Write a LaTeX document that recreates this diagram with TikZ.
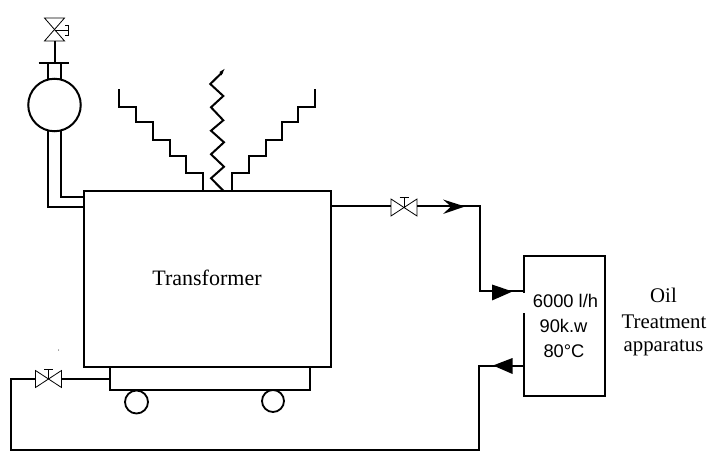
\documentclass[tikz,border=0pt]{standalone}
\usepackage{fontspec}
\setmainfont{Liberation Serif}
\newfontfamily\boxfont{Liberation Sans}
\usetikzlibrary{arrows.meta}
\tikzset{
  pipe/.style={line width=2pt,line cap=butt,line join=miter},
  thin part/.style={line width=0.8pt},
  unit/.style={draw,line width=2pt,rectangle,inner sep=0pt,fill=white},
  wheel/.style={draw,line width=1.8pt,circle,inner sep=0pt,fill=white},
  serif label/.style={anchor=base,inner sep=0pt,font=\fontsize{20.8pt}{24pt}\selectfont},
  sans label/.style={anchor=base,inner sep=0pt,font=\boxfont\fontsize{18.3pt}{22pt}\selectfont},
  pics/hvalve/.style={code={
    \draw[thin part,fill=white] (-13,-8.5) -- (13,8.5) -- (13,-8.5) -- (-13,8.5) -- cycle;
    \draw[thin part] (0,0) -- (0,-10) (-4.5,-10) -- (4.5,-10);
  }},
}
\begin{document}
\begin{tikzpicture}[x=1pt,y=-1pt]
\useasboundingbox[fill=white] (0,0) rectangle (718,465);
% units
\node[unit,minimum width=200pt,minimum height=23pt] (base) at (210,378.5) {};
\node[unit,minimum width=247.5pt,minimum height=175.5pt] (tank) at (207.25,278.75) {};
\node[unit,minimum width=81.5pt,minimum height=140pt] (oilunit) at (564.25,326) {};
\node[wheel,minimum size=23pt] (wheelA) at (136.5,402) {};
\node[wheel,minimum size=22pt] (wheelB) at (273,401) {};
\node[draw,line width=2pt,circle,inner sep=0pt,fill=white,minimum size=52.5pt] (cons) at (54.5,105) {};
% conservator pipes
\coordinate (valveT) at (54.5,30);
\coordinate (flange) at (54.5,63.5);
\draw[thin part,fill=white] (44.5,18) -- (64.5,18) -- (44.5,41) -- (64.5,41) -- cycle;
\draw[thin part] (valveT) -- (68.5,30) (65,25) -- (68.5,25) -- (68.5,35) -- (65,35);
\draw[pipe] (54.5,41) -- (flange);
\draw[pipe] (38.5,63.5) -- (68.5,63.5);
\draw[pipe] (48,63.5) -- (48,80) (61,63.5) -- (61,80);
\draw[pipe] (48,131) -- (48,207) -- (tank.west |- 0,207);
\draw[pipe] (61,131) -- (61,197) -- (tank.west |- 0,197);
% bushings
\draw[pipe] (118.7,89.3) -- (118.7,107.3) -- (136,107.3) -- (136,122.3) -- (153.3,122.3) -- (153.3,139.7) -- (170,139.7) -- (170,156) -- (186,156) -- (186,173.3) -- (202.7,173.3) -- (202.7,191);
\draw[pipe] (315,89.3) -- (315,107.3) -- (298.3,107.3) -- (298.3,122.3) -- (282.3,122.3) -- (282.3,139.7) -- (265.7,139.7) -- (265.7,156) -- (249,156) -- (249,173.3) -- (231.7,173.3) -- (231.7,191);
\draw[pipe] (223.3,190.7) -- (211,178.3) -- (224,166.7) -- (211,154.3) -- (224,142.3) -- (211,130.7) -- (223.3,120.3) -- (211,107.3) -- (223.3,96) -- (210.3,84) -- (222.5,72);
\fill (224.5,69) -- (219.5,72) -- (221.5,75.5) -- cycle;
% outlet
\pic at (404,207.5) {hvalve};
\coordinate (outA) at (391,206.5);
\coordinate (outB) at (417,206.5);
\coordinate (cornerA) at (480,206.5);
\coordinate (cornerB) at (480,291.5);
\draw[pipe] (tank.east |- outA) -- (outA);
\draw[pipe] (outB) -- (cornerA) -- (cornerB) -- (oilunit.west |- cornerB);
\fill (465,206.5) -- (443,199.5) -- (451,206.5) -- (443,214) -- cycle;
\fill (512.5,291.5) -- (492,284.5) -- (492,300.5) -- cycle;
% return
\coordinate (retA) at (478.5,365.5);
\coordinate (retB) at (478.5,449.7);
\coordinate (retC) at (11,449.7);
\coordinate (retD) at (11,378.7);
\coordinate (retE) at (36,378.7);
\coordinate (retF) at (62,378.7);
\draw[pipe] (oilunit.west |- retA) -- (retA) -- (retB) -- (retC) -- (retD) -- (retE);
\draw[pipe] (retF) -- (base.west |- retF);
\pic at (48.5,379) {hvalve};
\fill (493,365.5) -- (512.5,358) -- (512.5,374) -- cycle;
\fill (58.5,350) circle (0.5pt);
% labels
\fill[white] (522,293.5) rectangle (525,313);
\node[serif label,font=\fontsize{22pt}{24pt}\selectfont] (lblT) at (207,285.5) {Transformer};
\node[sans label] (lblA) at (565.5,308) {6000 l/h};
\node[sans label] (lblB) at (563.5,333) {90k.w};
\node[sans label] (lblC) at (564,357) {80°C};
\node[serif label] (lblD) at (663.5,303) {Oil};
\node[serif label] (lblE) at (664,328) {Treatment};
\node[serif label] (lblF) at (663.5,352) {apparatus};
\end{tikzpicture}
\end{document}
